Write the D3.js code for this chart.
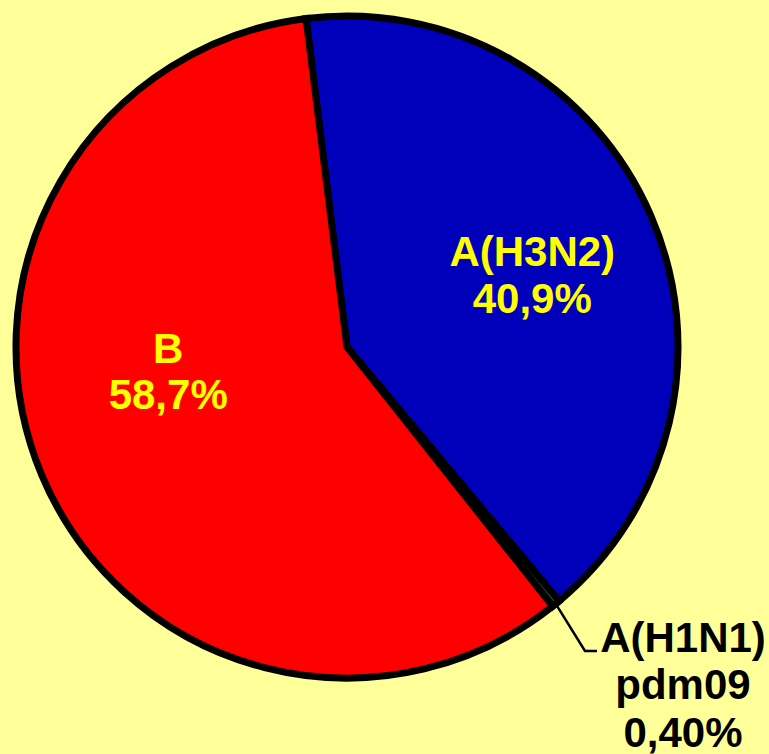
<!DOCTYPE html>
<html>
<head>
<meta charset="utf-8">
<script src="https://cdn.jsdelivr.net/npm/d3@7"></script>
<style>
  html, body { margin: 0; padding: 0; background: #FFFF99; }
  svg { display: block; }
</style>
</head>
<body>
<div id="chart"></div>
<script>
var categories = ['A(H3N2)', 'A(H1N1) pdm09', 'B'];
var shares = [40.9, 0.4, 58.7];
var shareLabels = ['40,9%', '0,40%', '58,7%'];
var colors = ['#0000BB', '#006633', '#FF0000'];

var width = 769,
    height = 754,
    cx = 347,
    cy = 347,
    radius = 331;

var data = categories.map(function(c, i) {
  return {name: c, value: shares[i], label: shareLabels[i], color: colors[i]};
});

var start = -7.1 * Math.PI / 180;
var pie = d3.pie()
            .sort(null)
            .startAngle(start)
            .endAngle(start + 2 * Math.PI)
            .value(function(d) { return d.value; });

var arc = d3.arc()
            .innerRadius(0)
            .outerRadius(radius);

var svg = d3.select('#chart').append('svg')
            .attr('width', width)
            .attr('height', height);

svg.append('rect')
   .attr('width', width)
   .attr('height', height)
   .attr('fill', '#FFFF99');

var g = svg.append('g')
           .attr('transform', 'translate(' + cx + ',' + cy + ')');

var arcs = pie(data);

g.selectAll('.slice')
  .data(arcs)
  .enter().append('path')
  .attr('class', 'slice')
  .attr('d', arc)
  .attr('fill', function(d) { return d.data.color; })
  .attr('stroke', '#000')
  .attr('stroke-width', 7)
  .attr('stroke-linejoin', 'miter');

// label placement (polar, degrees clockwise from top) for the two big slices
var inside = {
  'A(H3N2)': {angle: 72.7, r: 194},
  'B': {angle: 257.7, r: 183}
};

var fontSize = 42;

arcs.forEach(function(d) {
  var pos = inside[d.data.name];
  if (!pos) return;
  var a = pos.angle * Math.PI / 180;
  var x = Math.sin(a) * pos.r,
      y = -Math.cos(a) * pos.r;
  var t = g.append('text')
    .attr('text-anchor', 'middle')
    .attr('font-family', 'Liberation Sans, Arial, sans-serif')
    .attr('font-weight', 'bold')
    .attr('font-size', fontSize)
    .attr('fill', '#FFFF00');
  t.append('tspan').attr('x', x).attr('y', y - 23.5).text(d.data.name);
  t.append('tspan').attr('x', x).attr('y', y + 23.5).text(d.data.label);
});

// small slice: leader line and outside label
var small = arcs[1];
var mid = (small.startAngle + small.endAngle) / 2;
var edge = [Math.sin(mid) * (radius - 2), -Math.cos(mid) * (radius - 2)];
g.append('polyline')
  .attr('points', [edge, [238, 304], [250, 304]].map(function(p) { return p.join(','); }).join(' '))
  .attr('fill', 'none')
  .attr('stroke', '#000')
  .attr('stroke-width', 2.5);

var parts = small.data.name.split(' ');
var st = g.append('text')
  .attr('text-anchor', 'middle')
  .attr('font-family', 'Liberation Sans, Arial, sans-serif')
  .attr('font-weight', 'bold')
  .attr('font-size', fontSize)
  .attr('fill', '#000');
st.append('tspan').attr('x', 336).attr('y', 305).text(parts[0]);
st.append('tspan').attr('x', 336).attr('y', 352).text(parts[1]);
st.append('tspan').attr('x', 336).attr('y', 400).text(small.data.label);
</script>
</body>
</html>
